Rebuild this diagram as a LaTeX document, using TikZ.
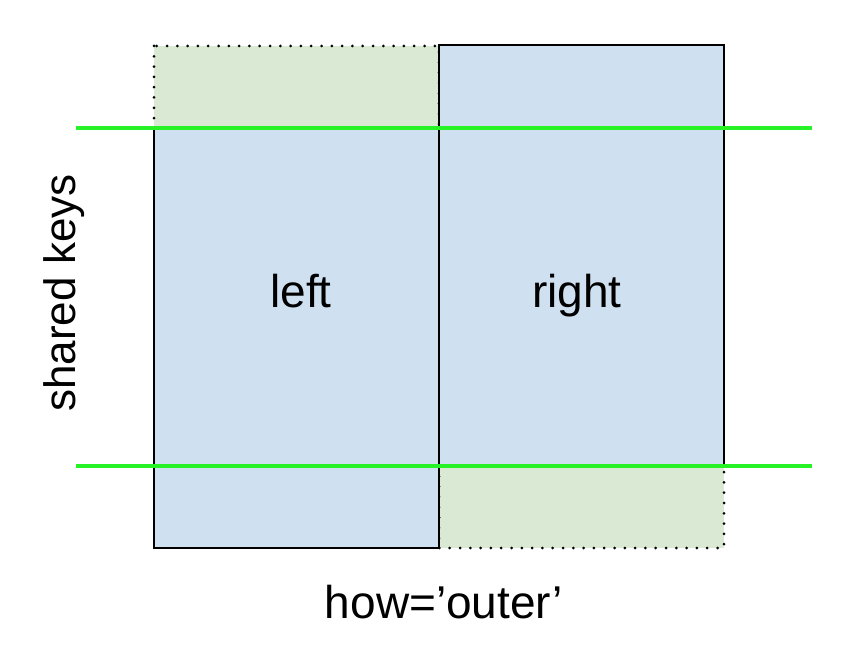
\documentclass[tikz,border=0pt]{standalone}
\usepackage{fontspec}
\setmainfont{Liberation Sans}
\definecolor{bluefill}{HTML}{CFE0F1}
\definecolor{greenfill}{HTML}{D9E9D4}
\definecolor{keyline}{RGB}{38,242,38}
\tikzset{
  solidbox/.style={draw=black, line width=2.2pt, fill=bluefill},
  dotbox/.style={draw=black, line width=3pt, fill=greenfill, dash pattern=on 0pt off 10.3pt, line cap=round},
  keyrule/.style={draw=keyline, line width=4.5pt},
  lbl/.style={font=\fontsize{46}{55}\selectfont, inner sep=0pt}
}
\begin{document}
\begin{tikzpicture}[x=1pt,y=-1pt]
\useasboundingbox (0,0) rectangle (856,660);
% dotted (missing) parts
\path[dotbox] (154,46) rectangle (439,128);
\path[dotbox] (439,466) rectangle (724,548);
% solid frames
\path[solidbox] (154,128) rectangle (439,548);
\path[solidbox] (439,45) rectangle (724,466);
% shared-key lines
\coordinate (k1a) at (76,128);
\coordinate (k1b) at (812,128);
\coordinate (k2a) at (76,466);
\coordinate (k2b) at (812,466);
\draw[keyrule] (k1a) -- (k1b);
\draw[keyrule] (k2a) -- (k2b);
% labels
\node[lbl, anchor=base] (left) at (301,307) {left};
\node[lbl, anchor=base] (right) at (577,307) {right};
\node[lbl, anchor=base] (how) at (444,618) {how='outer'};
\node[lbl, rotate=90, font=\fontsize{44}{53}\selectfont] (keys) at (64,293) {shared keys};
\end{tikzpicture}
\end{document}
